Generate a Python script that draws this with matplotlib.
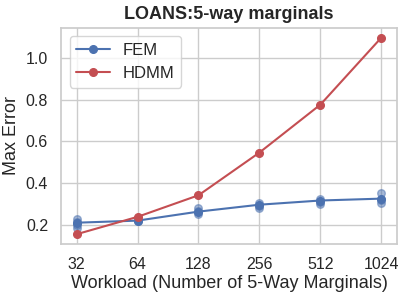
import matplotlib
matplotlib.use("Agg")
import matplotlib.pyplot as plt
import seaborn as sns

sns.set_theme(style="whitegrid")
plt.rcParams['font.family'] = ['Liberation Sans', 'DejaVu Sans']

workloads = [32, 64, 128, 256, 512, 1024]
fem_mean = [0.212, 0.222, 0.265, 0.298, 0.318, 0.327]
hdmm = [0.157, 0.240, 0.343, 0.547, 0.776, 1.096]
yticks = [0.2, 0.4, 0.6, 0.8, 1.0]

# individual FEM runs (scatter)
fem_runs_x = [32, 32, 32, 32, 64, 64, 128, 128, 128, 256, 256, 256, 512, 512, 512, 1024, 1024, 1024]
fem_runs_y = [0.230, 0.215, 0.200, 0.185, 0.225, 0.218, 0.282, 0.268, 0.255, 0.305, 0.292, 0.280,
              0.325, 0.312, 0.302, 0.355, 0.320, 0.308]

fig, ax = plt.subplots(figsize=(4.06, 2.98), dpi=100)
blue = "#4c72b0"
red = "#c44e52"

ax.scatter(fem_runs_x, fem_runs_y, color=blue, alpha=0.5, s=30, zorder=2)
ax.plot(workloads, fem_mean, color=blue, marker="o", markersize=5.5, label="FEM", zorder=3)
ax.plot(workloads, hdmm, color=red, marker="o", markersize=5.5, label="HDMM", zorder=3)

ax.set_xscale("log", base=2)
ax.set_xticks(workloads)
ax.set_xticklabels([str(w) for w in workloads])
ax.set_yticks(yticks)
ax.set_yticklabels([f"{v:.1f}" for v in yticks])
ax.minorticks_off()
ax.tick_params(labelsize=11.5)

ax.set_title("LOANS:5-way marginals", fontsize=13, fontweight="bold")
ax.set_ylabel("Max Error", fontsize=13)
ax.set_xlabel("Workload (Number of 5-Way Marginals)", fontsize=13, labelpad=2)
ax.legend(loc="upper left", fontsize=12)

fig.subplots_adjust(left=0.151, right=0.977, top=0.907, bottom=0.181)
fig.savefig("out.png", dpi=100)
